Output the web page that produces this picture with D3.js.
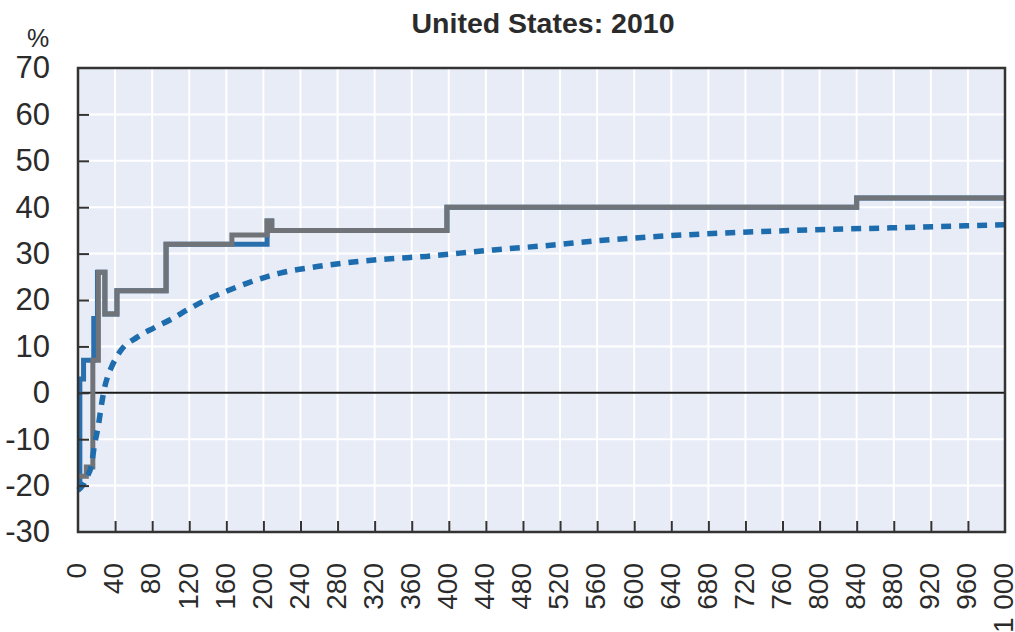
<!DOCTYPE html>
<html>
<head>
<meta charset="utf-8">
<script src="https://cdn.jsdelivr.net/npm/d3@7"></script>
<style>
  html, body { margin: 0; padding: 0; background: #ffffff; }
  svg { display: block; }
  text { font-family: "Liberation Sans", Arial, sans-serif; fill: #2b2b2b; }
</style>
</head>
<body>
<svg id="chart" width="1015" height="632"></svg>
<script>
// Chart values
const title = "United States: 2010";
const unitLabel = "%";
const xTicks = [0, 40, 80, 120, 160, 200, 240, 280, 320, 360, 400, 440, 480, 520, 560,
                600, 640, 680, 720, 760, 800, 840, 880, 920, 960, 1000];
const xTickLabels = ["0", "40", "80", "120", "160", "200", "240", "280", "320", "360", "400",
                     "440", "480", "520", "560", "600", "640", "680", "720", "760", "800",
                     "840", "880", "920", "960", "1 000"];
const yTicks = [-30, -20, -10, 0, 10, 20, 30, 40, 50, 60, 70];

// Step series: [earnings, rate] — each level holds until the next point
const greyStep = [[0, -18], [9, -16], [16, 7], [22, 26], [29, 17], [42, 22], [95, 32],
                  [166, 34], [204, 37], [209, 35], [398, 40], [840, 42], [1000, 42]];
const blueStep = [[0, -20], [2, 3], [6, 7], [17, 16], [21, 26], [29, 17], [42, 22], [95, 32],
                  [166, 32], [204, 37], [209, 35], [398, 40], [840, 42], [1000, 42]];
// Smooth average-rate curve
const avgCurve = [[0, -21], [5, -20], [10, -18], [14, -16], [18, -11], [22, -7], [25, -3],
                  [28, 0.5], [32, 3.5], [36, 5.5], [45, 8.8], [64, 12], [82, 14], [100, 15.8],
                  [119, 18], [138, 20], [159, 21.8], [182, 23.6], [218, 25.8], [258, 27.2],
                  [297, 28.2], [337, 28.9], [376, 29.4], [412, 30.1], [448, 30.8], [504, 31.7],
                  [563, 32.8], [617, 33.6], [671, 34.2], [730, 34.7], [790, 35.1], [887, 35.6],
                  [980, 36.1], [1000, 36.2]];

const svg = d3.select("#chart");
const plot = { left: 78, right: 1005, top: 68, bottom: 532 };

const x = d3.scaleLinear().domain([0, 1000]).range([plot.left, plot.right]);
const y = d3.scaleLinear().domain([-30, 70]).range([plot.bottom, plot.top]);

// Plot background
svg.append("rect")
  .attr("x", plot.left).attr("y", plot.top)
  .attr("width", plot.right - plot.left).attr("height", plot.bottom - plot.top)
  .attr("fill", "#e8ecf6");

// White grid
const grid = svg.append("g").attr("stroke", "#ffffff").attr("stroke-width", 2);
grid.selectAll("line.v").data(xTicks.slice(1, -1)).join("line")
  .attr("x1", d => x(d)).attr("x2", d => x(d))
  .attr("y1", plot.top).attr("y2", plot.bottom);
grid.selectAll("line.h").data(yTicks.slice(1, -1)).join("line")
  .attr("x1", plot.left).attr("x2", plot.right)
  .attr("y1", d => y(d)).attr("y2", d => y(d));

// Zero line
svg.append("line")
  .attr("x1", plot.left).attr("x2", plot.right)
  .attr("y1", y(0)).attr("y2", y(0))
  .attr("stroke", "#1a1a1a").attr("stroke-width", 2);

const stepLine = d3.line().x(d => x(d[0])).y(d => y(d[1])).curve(d3.curveStepAfter);
const smoothLine = d3.line().x(d => x(d[0])).y(d => y(d[1])).curve(d3.curveMonotoneX);

svg.append("path").datum(blueStep)
  .attr("d", stepLine).attr("fill", "none")
  .attr("stroke", "#2a6fad").attr("stroke-width", 5);

svg.append("path").datum(greyStep)
  .attr("d", stepLine).attr("fill", "none")
  .attr("stroke", "#707479").attr("stroke-width", 5);

svg.append("path").datum(avgCurve)
  .attr("d", smoothLine).attr("fill", "none")
  .attr("stroke", "#1c6cae").attr("stroke-width", 5.5)
  .attr("stroke-dasharray", "10,8");

// Axes with inward ticks
const yAxis = d3.axisLeft(y).tickValues(yTicks).tickSize(-11).tickFormat(d3.format("d")).tickPadding(28);
const gy = svg.append("g").attr("transform", `translate(${plot.left},0)`).call(yAxis);
gy.select(".domain").remove();
gy.selectAll(".tick line").attr("stroke", "#333").attr("stroke-width", 2)
  .filter(d => d === 70 || d === -30).remove();
gy.selectAll(".tick text")
  .attr("font-size", 31).attr("font-family", "Liberation Sans, Arial, sans-serif")
  .attr("fill", "#2b2b2b").attr("text-anchor", "end")
  .text(d => d3.format("d")(d).replace("−", "-"));

const xAxis = d3.axisBottom(x).tickValues(xTicks).tickSize(-11).tickFormat((d, i) => xTickLabels[i]);
const gx = svg.append("g").attr("transform", `translate(0,${plot.bottom})`).call(xAxis);
gx.select(".domain").remove();
gx.selectAll(".tick line").attr("stroke", "#333").attr("stroke-width", 2)
  .filter(d => d === 0 || d === 1000).remove();
gx.selectAll(".tick text")
  .attr("font-size", 28).attr("font-family", "Liberation Sans, Arial, sans-serif")
  .attr("fill", "#2b2b2b")
  .attr("text-anchor", "end")
  .attr("dy", null).attr("y", null)
  .attr("transform", "translate(-2,31) rotate(-90)")
  .attr("x", 0).attr("dy", "0.35em");

// Frame
svg.append("rect")
  .attr("x", plot.left).attr("y", plot.top)
  .attr("width", plot.right - plot.left).attr("height", plot.bottom - plot.top)
  .attr("fill", "none").attr("stroke", "#333").attr("stroke-width", 2.5);

// Title and unit
svg.append("text")
  .attr("x", 543).attr("y", 33)
  .attr("text-anchor", "middle")
  .attr("font-weight", "bold").attr("font-size", 27)
  .attr("textLength", 263).attr("lengthAdjust", "spacingAndGlyphs")
  .attr("fill", "#222")
  .text(title);

svg.append("text")
  .attr("x", 38).attr("y", 47)
  .attr("text-anchor", "middle")
  .attr("font-size", 25)
  .text(unitLabel);
</script>
</body>
</html>
